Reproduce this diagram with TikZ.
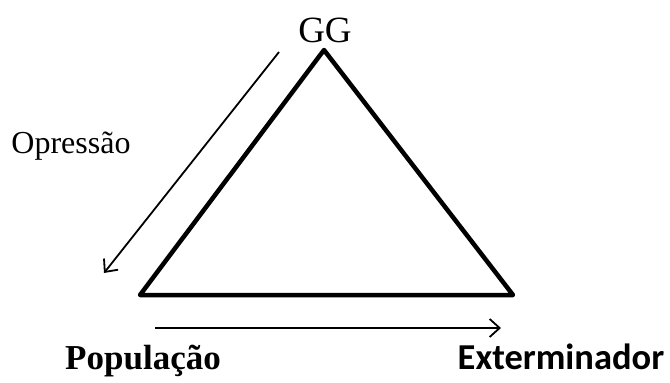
\documentclass[tikz,border=0pt]{standalone}
\usepackage{fontspec}
\setmainfont{Liberation Serif}
\newfontfamily\calfont{Carlito}
\usetikzlibrary{arrows.meta}
\begin{document}
\begin{tikzpicture}[x=1pt,y=-1pt,
  tri/.style={line width=4.5pt,line join=round,line cap=round},
  arr/.style={line width=1.8pt,-{Straight Barb[length=10pt,width=18pt,line width=1.8pt]}},
  lbl/.style={inner sep=0pt,anchor=base}]
\useasboundingbox (0,0) rectangle (670,383);
\coordinate (A) at (324,50);
\coordinate (B) at (140,295);
\coordinate (C) at (513,295);
\draw[tri] (A) -- (B) -- (C) -- cycle;
\coordinate (d1) at (279,52);
\coordinate (d2) at (104,273);
\draw[arr] (d1) -- (d2);
\coordinate (h1) at (155,328);
\coordinate (h2) at (501,328);
\draw[arr] (h1) -- (h2);
\node[lbl,font=\fontsize{37}{37}\selectfont] (gg) at (325,42) {GG};
\node[lbl,font=\fontsize{32}{32}\selectfont] (op) at (71,153) {Opressão};
\node[lbl,font=\fontsize{35}{35}\selectfont\bfseries] (pop) at (143,369) {População};
\node[lbl,font=\calfont\fontsize{36.5}{36.5}\selectfont\bfseries] (ext) at (561,369) {Exterminador};
\end{tikzpicture}
\end{document}
